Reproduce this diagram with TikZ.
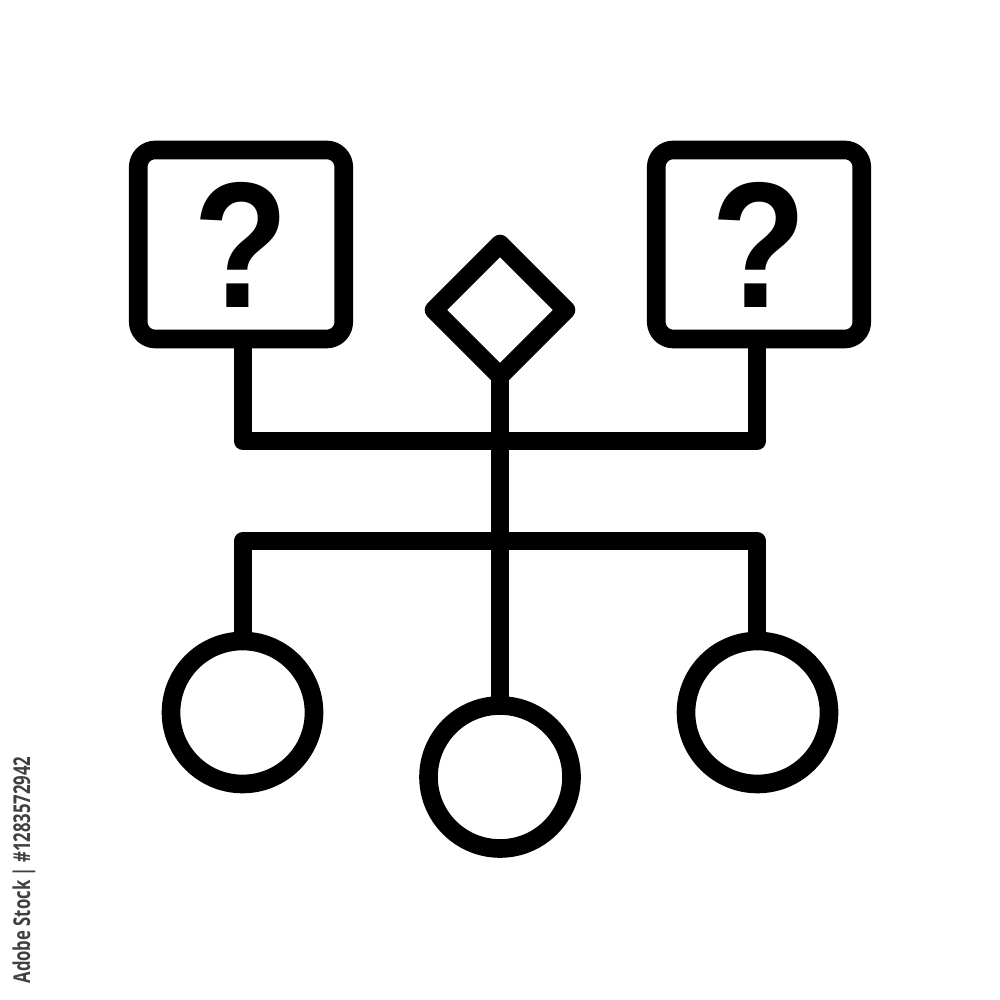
\documentclass[tikz,border=0pt]{standalone}
\usepackage{fontspec}
\setmainfont{Open Sans}
\newfontfamily\qfont{Liberation Sans}
\usetikzlibrary{shapes.geometric}
\begin{document}
\begin{tikzpicture}[
  icon/.style={draw=black, line width=5.3pt, line join=round, line cap=round, outer sep=0pt},
  qbox/.style={icon, rectangle, rounded corners=0.17cm, minimum width=2.055cm, minimum height=1.89cm, inner sep=0pt,
     font=\qfont\bfseries\fontsize{51}{51}\selectfont},
  dec/.style={icon, diamond, aspect=1, minimum size=1.32cm, inner sep=0pt},
  leaf/.style={icon, circle, minimum size=1.43cm, inner sep=0pt},
  wire/.style={line width=5.3pt, line join=round, line cap=butt}
]
\useasboundingbox (0,0) rectangle (10,10);
\node[qbox] (qL) at (2.41,7.555) {\scalebox{0.87}[1]{?}};
\node[qbox] (qR) at (7.59,7.555) {\scalebox{0.87}[1]{?}};
\node[dec] (d) at (5.00,6.90) {};
\node[leaf] (cL) at (2.425,2.875) {};
\node[leaf] (cM) at (5.00,2.23) {};
\node[leaf] (cR) at (7.575,2.875) {};
\coordinate (uL) at (2.43,5.59);
\coordinate (uR) at (7.57,5.59);
\coordinate (lL) at (2.43,4.59);
\coordinate (lR) at (7.57,4.59);
\draw[wire] (qL.south -| uL) -- (uL) -- (uR) -- (qR.south -| uR);
\draw[wire] (cL.north -| lL) -- (lL) -- (lR) -- (cR.north -| lR);
\draw[wire] (d.south) -- (cM.north);
\node[rotate=90, text=black!75, font=\bfseries\fontsize{6.6}{6.6}\selectfont, inner sep=0pt] (wm) at (0.24,1.30) {\scalebox{0.72}[1]{Adobe Stock | \#1283572942}};
\end{tikzpicture}
\end{document}
